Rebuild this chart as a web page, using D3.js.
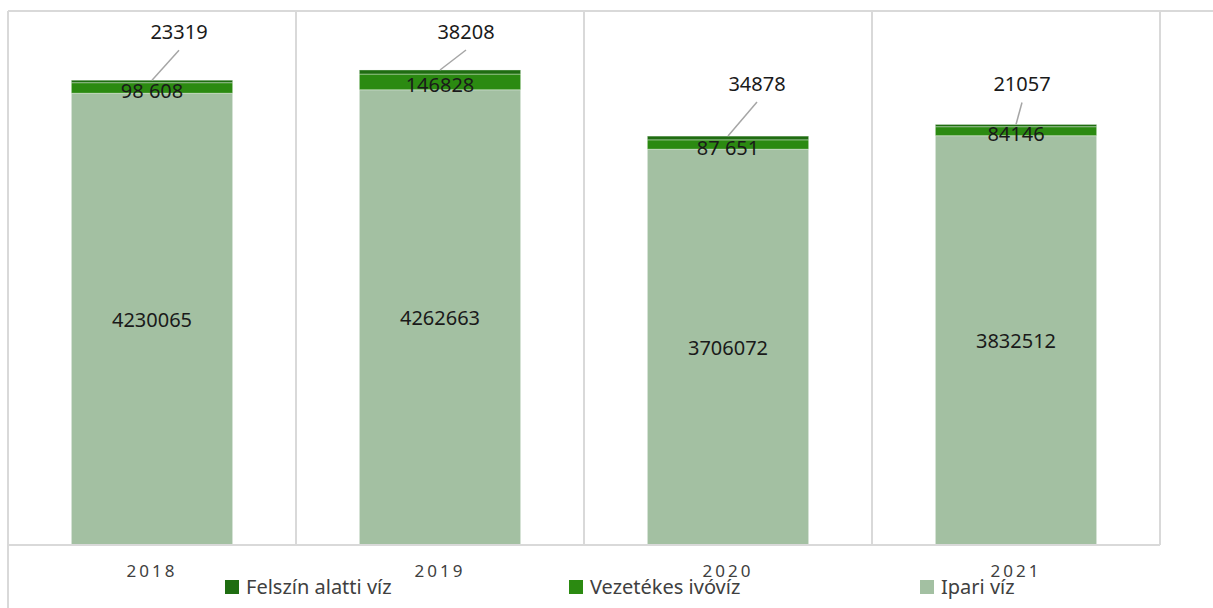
<!DOCTYPE html>
<html>
<head>
<meta charset="utf-8">
<script src="https://cdn.jsdelivr.net/npm/d3@7"></script>
<style>
  body { margin: 0; background: #fff; }
  text { font-family: "Noto Sans", "Open Sans", sans-serif; }
</style>
</head>
<body>
<div id="chart"></div>
<script>
var width = 1213, height = 608;

// data
var years = ["2018", "2019", "2020", "2021"];
var ipari = [4230065, 4262663, 3706072, 3832512];
var vezetekes = [98608, 146828, 87651, 84146];
var felszin = [23319, 38208, 34878, 21057];
var vezetekesLabels = ["98 608", "146828", "87 651", "84146"];
var seriesNames = ["Felszín alatti víz", "Vezetékes ivóvíz", "Ipari víz"];

// callout offsets for the small top segment (px from bar top centre)
var calloutDx = [27, 26, 29, 6];
var calloutDy = [-48, -38, -52, -40];

var colors = { ipari: "#a3c0a2", vez: "#2b8a11", fel: "#1f6d11" };

var plotLeft = 8, plotRight = 1160, plotTop = 11, plotBottom = 545;

var svg = d3.select("#chart").append("svg").attr("width", width).attr("height", height);

var x = d3.scaleBand().domain(years).range([plotLeft, plotRight]).paddingInner(0).paddingOuter(0);
var y = d3.scaleLinear().domain([0, 5000000]).range([plotBottom, plotTop]);
var barW = x.bandwidth() * 0.56;

// grid
var grid = svg.append("g").attr("stroke", "#d9d9d9").attr("stroke-width", 2);
grid.append("line").attr("x1", plotLeft).attr("x2", width).attr("y1", plotTop).attr("y2", plotTop);
grid.append("line").attr("x1", plotLeft).attr("x2", plotLeft).attr("y1", plotTop).attr("y2", height);
years.forEach(function(d) {
  grid.append("line").attr("x1", x(d) + x.bandwidth()).attr("x2", x(d) + x.bandwidth())
    .attr("y1", plotTop).attr("y2", plotBottom);
});

var stack = years.map(function(d, i) {
  var a = ipari[i], b = vezetekes[i], c = felszin[i];
  return { year: d, i: i, segs: [
    { key: "ipari", y0: 0, y1: a },
    { key: "vez", y0: a, y1: a + b },
    { key: "fel", y0: a + b, y1: a + b + c }
  ] };
});

var bars = svg.append("g").selectAll("g").data(stack).enter().append("g");
bars.selectAll("rect").data(function(d) { return d.segs.map(function(s) { s.year = d.year; return s; }); })
  .enter().append("rect")
  .attr("x", function(s) { return x(s.year) + (x.bandwidth() - barW) / 2; })
  .attr("width", barW)
  .attr("y", function(s) { return y(s.y1); })
  .attr("height", function(s) { return y(s.y0) - y(s.y1); })
  .attr("fill", function(s) { return colors[s.key]; })
  .attr("stroke", "rgba(255,255,255,0.35)")
  .attr("stroke-width", 1);

// axis line
svg.append("line").attr("x1", plotLeft).attr("x2", plotRight).attr("y1", plotBottom).attr("y2", plotBottom)
  .attr("stroke", "#d9d9d9").attr("stroke-width", 2);

// labels
var lab = svg.append("g").attr("fill", "#1a1a1a").attr("font-size", 20).attr("text-anchor", "middle");
stack.forEach(function(d) {
  var cx = x(d.year) + x.bandwidth() / 2;
  var s = d.segs;
  lab.append("text").attr("x", cx).attr("y", y((s[0].y0 + s[0].y1) / 2) + 1).attr("dy", "0.35em")
    .text(ipari[d.i]);
  lab.append("text").attr("x", cx).attr("y", y((s[1].y0 + s[1].y1) / 2) + 3).attr("dy", "0.35em")
    .text(vezetekesLabels[d.i]);
  var topY = y(s[2].y1);
  var lx = cx + calloutDx[d.i], ly = topY + calloutDy[d.i];
  svg.append("line").attr("x1", lx).attr("y1", ly + 18).attr("x2", cx).attr("y2", topY)
    .attr("stroke", "#a6a6a6").attr("stroke-width", 1.5);
  lab.append("text").attr("x", lx).attr("y", ly).attr("dy", "0.35em").text(felszin[d.i]);
});

// x axis
var xAxis = svg.append("g").attr("transform", "translate(0," + plotBottom + ")")
  .call(d3.axisBottom(x).tickSize(0).tickPadding(20));
xAxis.select(".domain").remove();
xAxis.selectAll("text").attr("font-size", 17).attr("fill", "#404040")
  .attr("letter-spacing", "3px").attr("font-family", "Noto Sans, sans-serif");

// legend
var legendX = [225, 569, 920];
var legendCol = [colors.fel, colors.vez, colors.ipari];
var leg = svg.append("g").selectAll("g").data(seriesNames).enter().append("g")
  .attr("transform", function(d, i) { return "translate(" + legendX[i] + ",580)"; });
leg.append("rect").attr("width", 14).attr("height", 14).attr("fill", function(d, i) { return legendCol[i]; });
leg.append("text").attr("x", 21).attr("y", 7).attr("dy", "0.35em").attr("font-size", 20)
  .attr("fill", "#404040").text(function(d) { return d; });
</script>
</body>
</html>
